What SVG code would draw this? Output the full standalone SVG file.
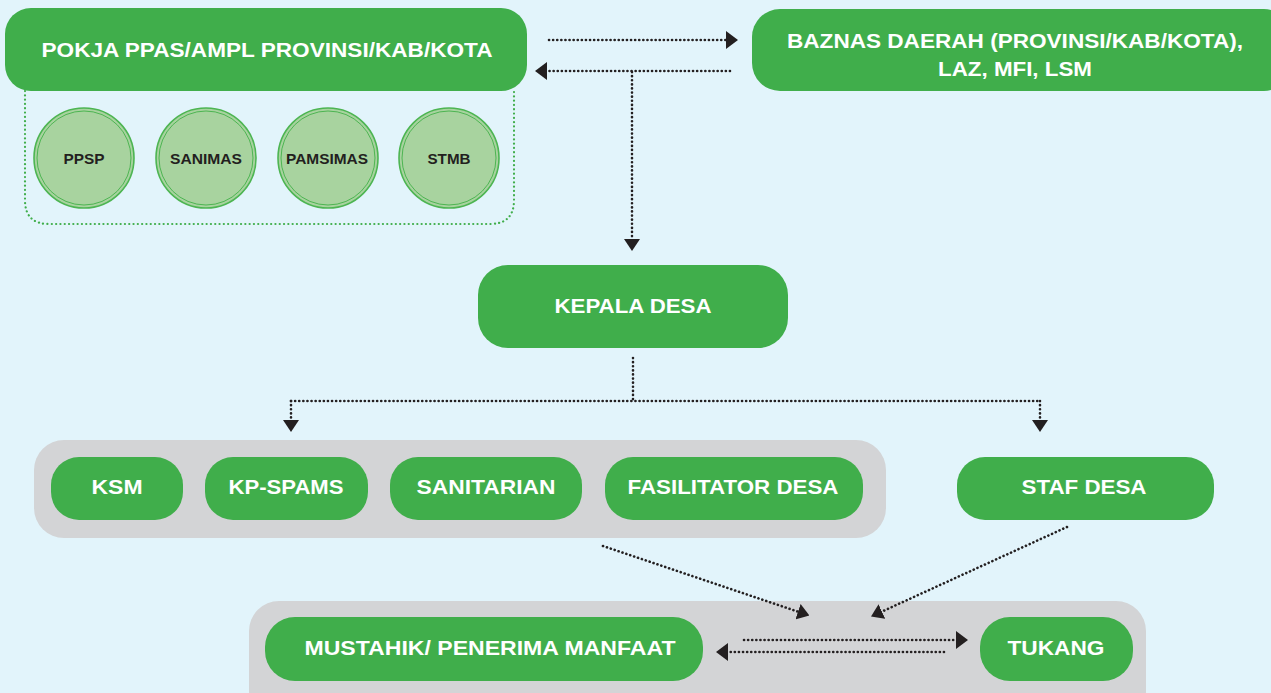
<svg xmlns="http://www.w3.org/2000/svg" width="1271" height="693" viewBox="0 0 1271 693">
<defs>
<style>
.box{fill:#40AE4B}
.grp{fill:#D3D4D6}
.t{font-family:"Liberation Sans",Arial,sans-serif;font-weight:bold;fill:#fff;text-anchor:middle}
.ct{font-family:"Liberation Sans",Arial,sans-serif;font-weight:bold;fill:#231F20;text-anchor:middle;font-size:15px}
.circ{fill:#A8D39F;stroke:#4DB552;stroke-width:1.6}
.circi{fill:none;stroke:#4DB552;stroke-width:1}
.dot{fill:none;stroke:#231F20;stroke-width:2.6;stroke-linecap:round;stroke-dasharray:0.1 4}
.gdot{fill:none;stroke:#40AE4B;stroke-width:2.2;stroke-linecap:round;stroke-dasharray:0.1 4.2}
</style>
<marker id="ah" viewBox="0 0 12 18" refX="1" refY="9" markerWidth="12" markerHeight="18" markerUnits="userSpaceOnUse" orient="auto">
<path d="M0,0 L12,9 L0,18 Z" fill="#231F20"/>
</marker>
<marker id="ahd" viewBox="0 0 12 16" refX="1" refY="8" markerWidth="12" markerHeight="16" markerUnits="userSpaceOnUse" orient="auto">
<path d="M0,0 L12,8 L0,16 Z" fill="#231F20"/>
</marker>
</defs>
<rect width="1271" height="693" fill="#E2F4FB"/>

<g id="pokja">
<path class="gdot" d="M25,91 V200 Q25,224 49,224 H490 Q514,224 514,200 V91"/>
<rect class="box" x="5" y="8" width="522" height="83" rx="26"/>
<text class="t" x="267" y="57" font-size="21" textLength="451" lengthAdjust="spacingAndGlyphs">POKJA PPAS/AMPL PROVINSI/KAB/KOTA</text>
</g>
<g id="ppsp"><circle class="circ" cx="84" cy="158" r="50"/><circle class="circi" cx="84" cy="158" r="47"/><text class="ct" x="84" y="164" textLength="41" lengthAdjust="spacingAndGlyphs">PPSP</text></g>
<g id="sanimas"><circle class="circ" cx="206" cy="158" r="50"/><circle class="circi" cx="206" cy="158" r="47"/><text class="ct" x="206" y="164" textLength="72" lengthAdjust="spacingAndGlyphs">SANIMAS</text></g>
<g id="pamsimas"><circle class="circ" cx="328" cy="158" r="50"/><circle class="circi" cx="328" cy="158" r="47"/><text class="ct" x="327" y="164" textLength="82" lengthAdjust="spacingAndGlyphs">PAMSIMAS</text></g>
<g id="stmb"><circle class="circ" cx="449" cy="158" r="50"/><circle class="circi" cx="449" cy="158" r="47"/><text class="ct" x="449" y="164" textLength="43" lengthAdjust="spacingAndGlyphs">STMB</text></g>

<g id="baznas">
<rect class="box" x="752" y="9" width="540" height="82" rx="28"/>
<text class="t" x="1015" y="48" font-size="21" textLength="456" lengthAdjust="spacingAndGlyphs">BAZNAS DAERAH (PROVINSI/KAB/KOTA),</text>
<text class="t" x="1015" y="76" font-size="21" textLength="154" lengthAdjust="spacingAndGlyphs">LAZ, MFI, LSM</text>
</g>

<g id="kepala">
<rect class="box" x="478" y="265" width="310" height="83" rx="30"/>
<text class="t" x="633" y="313" font-size="21" textLength="157" lengthAdjust="spacingAndGlyphs">KEPALA DESA</text>
</g>

<g id="group1"><rect class="grp" x="34" y="440" width="852" height="98" rx="30"/></g>
<g id="ksm"><rect class="box" x="51" y="457" width="132" height="63" rx="28"/><text class="t" x="117" y="494" font-size="21" textLength="51" lengthAdjust="spacingAndGlyphs">KSM</text></g>
<g id="kpspams"><rect class="box" x="205" y="457" width="163" height="63" rx="28"/><text class="t" x="286" y="494" font-size="21" textLength="115" lengthAdjust="spacingAndGlyphs">KP-SPAMS</text></g>
<g id="sanitarian"><rect class="box" x="390" y="457" width="192" height="63" rx="28"/><text class="t" x="486" y="494" font-size="21" textLength="139" lengthAdjust="spacingAndGlyphs">SANITARIAN</text></g>
<g id="fasilitator"><rect class="box" x="605" y="457" width="258" height="63" rx="28"/><text class="t" x="733" y="494" font-size="21" textLength="211" lengthAdjust="spacingAndGlyphs">FASILITATOR DESA</text></g>
<g id="staf"><rect class="box" x="957" y="457" width="257" height="63" rx="28"/><text class="t" x="1084" y="494" font-size="21" textLength="125" lengthAdjust="spacingAndGlyphs">STAF DESA</text></g>

<g id="group2"><rect class="grp" x="249" y="601" width="897" height="120" rx="30"/></g>
<g id="mustahik"><rect class="box" x="265" y="617" width="438" height="64" rx="30"/><text class="t" x="490" y="655" font-size="21" textLength="371" lengthAdjust="spacingAndGlyphs">MUSTAHIK/ PENERIMA MANFAAT</text></g>
<g id="tukang"><rect class="box" x="980" y="617" width="153" height="64" rx="30"/><text class="t" x="1056" y="655" font-size="21" textLength="97" lengthAdjust="spacingAndGlyphs">TUKANG</text></g>

<g id="connectors">
<path class="dot" d="M549,40 H727" marker-end="url(#ah)"/>
<path class="dot" d="M730,71 H546" marker-end="url(#ah)"/>
<path class="dot" d="M632,72 V240" marker-end="url(#ahd)"/>
<path class="dot" d="M633,358 V401"/>
<path class="dot" d="M291,401 H1040"/>
<path class="dot" d="M291,401 V421" marker-end="url(#ahd)"/>
<path class="dot" d="M1040,401 V421" marker-end="url(#ahd)"/>
<path class="dot" d="M603,546 L799,612" marker-end="url(#ahd)"/>
<path class="dot" d="M1067,527 L881,612" marker-end="url(#ahd)"/>
<path class="dot" d="M744,640 H957" marker-end="url(#ah)"/>
<path class="dot" d="M944,652 H727" marker-end="url(#ah)"/>
</g>
</svg>
